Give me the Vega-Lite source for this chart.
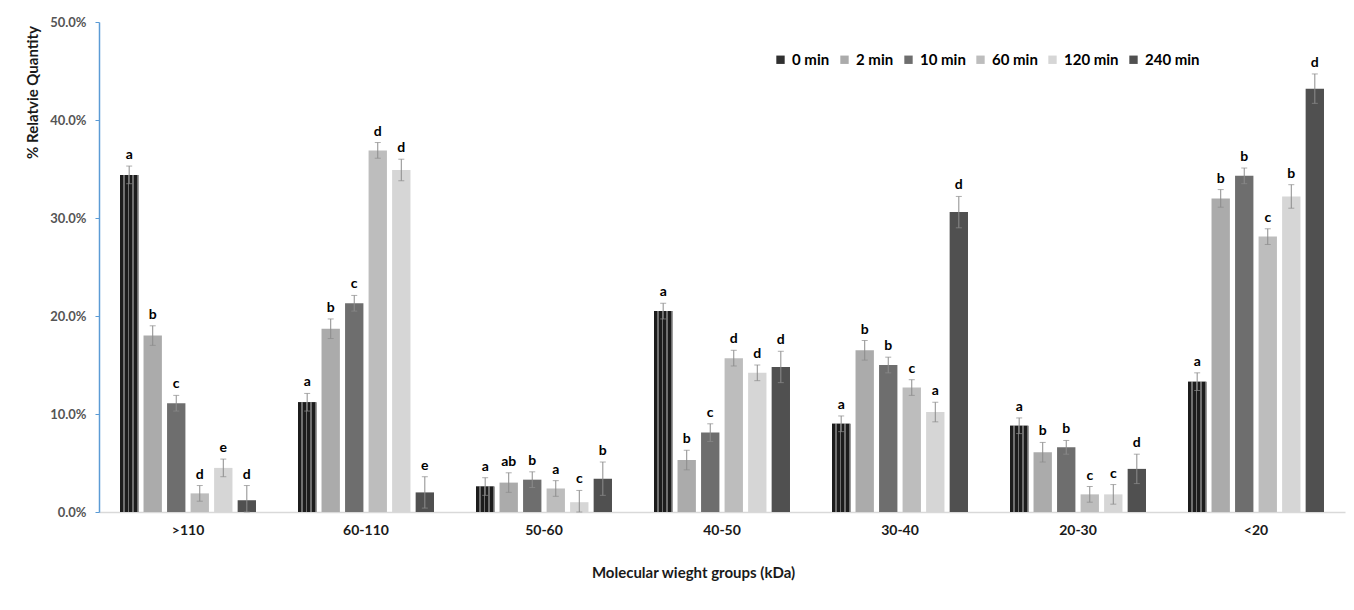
{
  "$schema": "https://vega.github.io/schema/vega-lite/v6.json",
  "width": 1246,
  "height": 490,
  "autosize": "none",
  "padding": {"left": 99, "top": 22, "right": 9, "bottom": 98},
  "background": "white",
  "config": {
    "font": "Lato",
    "view": {"stroke": null}
  },
  "data": {
    "values": [
      {"g": ">110", "t": "0 min", "v": 34.4, "lo": 33.5, "hi": 35.3, "l": "a"},
      {"g": ">110", "t": "2 min", "v": 18.0, "lo": 17.0, "hi": 19.0, "l": "b"},
      {"g": ">110", "t": "10 min", "v": 11.1, "lo": 10.3, "hi": 11.9, "l": "c"},
      {"g": ">110", "t": "60 min", "v": 1.9, "lo": 1.1, "hi": 2.7, "l": "d"},
      {"g": ">110", "t": "120 min", "v": 4.5, "lo": 3.6, "hi": 5.4, "l": "e"},
      {"g": ">110", "t": "240 min", "v": 1.2, "lo": 0.0, "hi": 2.7, "l": "d"},
      {"g": "60-110", "t": "0 min", "v": 11.2, "lo": 10.3, "hi": 12.1, "l": "a"},
      {"g": "60-110", "t": "2 min", "v": 18.7, "lo": 17.7, "hi": 19.7, "l": "b"},
      {"g": "60-110", "t": "10 min", "v": 21.3, "lo": 20.5, "hi": 22.1, "l": "c"},
      {"g": "60-110", "t": "60 min", "v": 36.9, "lo": 36.1, "hi": 37.7, "l": "d"},
      {"g": "60-110", "t": "120 min", "v": 34.9, "lo": 33.8, "hi": 36.0, "l": "d"},
      {"g": "60-110", "t": "240 min", "v": 2.0, "lo": 0.4, "hi": 3.6, "l": "e"},
      {"g": "50-60", "t": "0 min", "v": 2.6, "lo": 1.7, "hi": 3.5, "l": "a"},
      {"g": "50-60", "t": "2 min", "v": 3.0, "lo": 2.0, "hi": 4.0, "l": "ab"},
      {"g": "50-60", "t": "10 min", "v": 3.3, "lo": 2.5, "hi": 4.1, "l": "b"},
      {"g": "50-60", "t": "60 min", "v": 2.4, "lo": 1.6, "hi": 3.2, "l": "a"},
      {"g": "50-60", "t": "120 min", "v": 1.0, "lo": 0.0, "hi": 2.2, "l": "c"},
      {"g": "50-60", "t": "240 min", "v": 3.4, "lo": 1.7, "hi": 5.1, "l": "b"},
      {"g": "40-50", "t": "0 min", "v": 20.5, "lo": 19.7, "hi": 21.3, "l": "a"},
      {"g": "40-50", "t": "2 min", "v": 5.3, "lo": 4.3, "hi": 6.3, "l": "b"},
      {"g": "40-50", "t": "10 min", "v": 8.1, "lo": 7.2, "hi": 9.0, "l": "c"},
      {"g": "40-50", "t": "60 min", "v": 15.7, "lo": 14.9, "hi": 16.5, "l": "d"},
      {"g": "40-50", "t": "120 min", "v": 14.2, "lo": 13.4, "hi": 15.0, "l": "d"},
      {"g": "40-50", "t": "240 min", "v": 14.8, "lo": 13.2, "hi": 16.4, "l": "d"},
      {"g": "30-40", "t": "0 min", "v": 9.0, "lo": 8.2, "hi": 9.8, "l": "a"},
      {"g": "30-40", "t": "2 min", "v": 16.5, "lo": 15.5, "hi": 17.5, "l": "b"},
      {"g": "30-40", "t": "10 min", "v": 15.0, "lo": 14.2, "hi": 15.8, "l": "b"},
      {"g": "30-40", "t": "60 min", "v": 12.7, "lo": 11.9, "hi": 13.5, "l": "c"},
      {"g": "30-40", "t": "120 min", "v": 10.2, "lo": 9.2, "hi": 11.2, "l": "a"},
      {"g": "30-40", "t": "240 min", "v": 30.6, "lo": 29.0, "hi": 32.2, "l": "d"},
      {"g": "20-30", "t": "0 min", "v": 8.8, "lo": 8.0, "hi": 9.6, "l": "a"},
      {"g": "20-30", "t": "2 min", "v": 6.1, "lo": 5.1, "hi": 7.1, "l": "b"},
      {"g": "20-30", "t": "10 min", "v": 6.6, "lo": 5.9, "hi": 7.3, "l": "b"},
      {"g": "20-30", "t": "60 min", "v": 1.8, "lo": 1.0, "hi": 2.6, "l": "c"},
      {"g": "20-30", "t": "120 min", "v": 1.8, "lo": 0.8, "hi": 2.8, "l": "c"},
      {"g": "20-30", "t": "240 min", "v": 4.4, "lo": 2.9, "hi": 5.9, "l": "d"},
      {"g": "<20", "t": "0 min", "v": 13.3, "lo": 12.4, "hi": 14.2, "l": "a"},
      {"g": "<20", "t": "2 min", "v": 32.0, "lo": 31.1, "hi": 32.9, "l": "b"},
      {"g": "<20", "t": "10 min", "v": 34.3, "lo": 33.5, "hi": 35.1, "l": "b"},
      {"g": "<20", "t": "60 min", "v": 28.1, "lo": 27.3, "hi": 28.9, "l": "c"},
      {"g": "<20", "t": "120 min", "v": 32.2, "lo": 31.0, "hi": 33.4, "l": "b"},
      {"g": "<20", "t": "240 min", "v": 43.2, "lo": 41.7, "hi": 44.7, "l": "d"}
    ]
  },
  "encoding": {
    "x": {
      "field": "g",
      "type": "nominal",
      "sort": [">110", "60-110", "50-60", "40-50", "30-40", "20-30", "<20"],
      "scale": {"paddingInner": 0.236, "paddingOuter": 0.118},
      "axis": {
        "title": "Molecular wieght groups (kDa)",
        "titleFont": "Lato",
        "titleFontSize": 15,
        "titleFontWeight": "bold",
        "titleColor": "#1a1a1a",
        "titleX": 594,
        "titleY": 60,
        "titleAnchor": null,
        "titleAlign": "center",
        "titleBaseline": "middle",
        "labelAngle": 0,
        "labelFontSize": 14,
        "labelFontWeight": "bold",
        "labelColor": "#1a1a1a",
        "labelPadding": 11,
        "ticks": false,
        "domainColor": "#d9d9d9",
        "domainWidth": 1.5
      }
    },
    "xOffset": {
      "field": "t",
      "type": "nominal",
      "sort": ["0 min", "2 min", "10 min", "60 min", "120 min", "240 min"],
      "scale": {"paddingInner": 0.22, "paddingOuter": 0}
    }
  },
  "layer": [
    {
      "mark": {"type": "bar"},
      "encoding": {
        "y": {
          "field": "v",
          "type": "quantitative",
          "scale": {"domain": [0, 50]},
          "axis": {
            "title": "% Relatvie Quantity",
            "titleFont": "Lato",
            "titleFontSize": 15,
            "titleFontWeight": "bold",
            "titleColor": "#1a1a1a",
            "titleX": -67,
            "titleY": 70,
            "titleAngle": -90,
            "titleAlign": "center",
            "titleBaseline": "middle",
            "values": [0, 10, 20, 30, 40, 50],
            "labelExpr": "format(datum.value, '.1f') + '%'",
            "labelFontSize": 13,
            "labelFontWeight": "bold",
            "labelColor": "#555555",
            "labelPadding": 9,
            "tickSize": 4,
            "tickColor": "#5b9bd5",
            "domainColor": "#5b9bd5",
            "domainWidth": 1.5,
            "grid": false
          }
        },
        "color": {
          "field": "t",
          "type": "nominal",
          "sort": ["0 min", "2 min", "10 min", "60 min", "120 min", "240 min"],
          "scale": {
            "domain": ["0 min", "2 min", "10 min", "60 min", "120 min", "240 min"],
            "range": ["#303030", "#ababab", "#6e6e6e", "#bdbdbd", "#d6d6d6", "#505050"]
          },
          "legend": {
            "title": null,
            "orient": "none",
            "legendX": 674,
            "legendY": 30,
            "direction": "horizontal",
            "symbolType": "square",
            "symbolSize": 70,
            "symbolStrokeWidth": 0,
            "labelFont": "Lato",
            "labelFontSize": 15,
            "labelFontWeight": "bold",
            "labelColor": "#000000",
            "labelOffset": 4,
            "columnPadding": 7
          }
        }
      }
    },
    {
      "transform": [{"filter": "datum.t == '0 min'"}],
      "mark": {
        "type": "bar",
        "fill": {
          "gradient": "linear",
          "x1": 0, "y1": 0, "x2": 1, "y2": 0,
          "stops": [
            {"offset": 0, "color": "#1c1c1c"},
            {"offset": 0.17, "color": "#1c1c1c"},
            {"offset": 0.17, "color": "#707070"},
            {"offset": 0.25, "color": "#707070"},
            {"offset": 0.25, "color": "#1c1c1c"},
            {"offset": 0.42, "color": "#1c1c1c"},
            {"offset": 0.42, "color": "#707070"},
            {"offset": 0.5, "color": "#707070"},
            {"offset": 0.5, "color": "#1c1c1c"},
            {"offset": 0.67, "color": "#1c1c1c"},
            {"offset": 0.67, "color": "#707070"},
            {"offset": 0.75, "color": "#707070"},
            {"offset": 0.75, "color": "#1c1c1c"},
            {"offset": 0.92, "color": "#1c1c1c"},
            {"offset": 0.92, "color": "#707070"},
            {"offset": 1, "color": "#707070"}
          ]
        }
      },
      "encoding": {
        "y": {"field": "v", "type": "quantitative"}
      }
    },
    {
      "mark": {"type": "rule", "color": "#8c8c8c", "strokeWidth": 1},
      "encoding": {
        "y": {"field": "lo", "type": "quantitative"},
        "y2": {"field": "hi"}
      }
    },
    {
      "mark": {"type": "tick", "color": "#8c8c8c", "size": 6, "thickness": 1},
      "encoding": {
        "y": {"field": "hi", "type": "quantitative"}
      }
    },
    {
      "mark": {"type": "tick", "color": "#8c8c8c", "size": 6, "thickness": 1},
      "encoding": {
        "y": {"field": "lo", "type": "quantitative"}
      }
    },
    {
      "mark": {"type": "text", "baseline": "bottom", "dy": -4, "fontSize": 14, "fontWeight": "bold", "color": "#000000", "font": "Lato"},
      "encoding": {
        "y": {"field": "hi", "type": "quantitative"},
        "text": {"field": "l"}
      }
    }
  ]
}
